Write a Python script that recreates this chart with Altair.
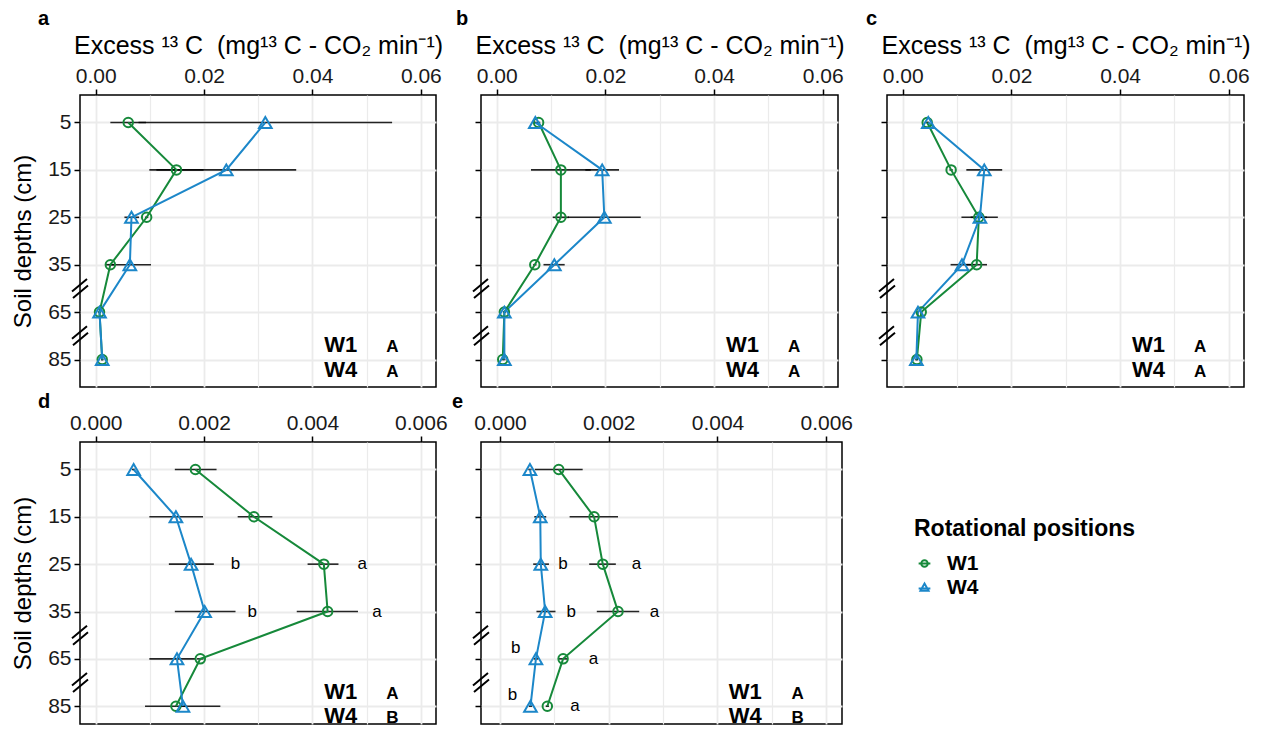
import altair as alt
import pandas as pd

# ---------------- data ----------------
depths = ["5", "15", "25", "35", "65", "85"]
series = ["W1", "W4"]
panel_keys = ["a", "b", "c", "d", "e"]

a_w1 = [0.0060, 0.0149, 0.0094, 0.0027, 0.0007, 0.0012]
a_w4 = [0.0313, 0.0241, 0.0066, 0.0063, 0.0007, 0.0012]
a_w1_lo = [0.0027, 0.0099, 0.0091, 0.0019, 0.0005, 0.0010]
a_w1_hi = [0.0093, 0.0199, 0.0097, 0.0035, 0.0009, 0.0014]
a_w4_lo = [0.0079, 0.0112, 0.0053, 0.0024, 0.0005, 0.0010]
a_w4_hi = [0.0547, 0.0370, 0.0080, 0.0102, 0.0009, 0.0014]

b_w1 = [0.0077, 0.0118, 0.0118, 0.0070, 0.0014, 0.0011]
b_w4 = [0.0071, 0.0194, 0.0198, 0.0106, 0.0014, 0.0014]
b_w1_lo = [0.0074, 0.0063, 0.0103, 0.0067, 0.0012, 0.0009]
b_w1_hi = [0.0080, 0.0173, 0.0133, 0.0073, 0.0016, 0.0013]
b_w4_lo = [0.0068, 0.0163, 0.0131, 0.0086, 0.0012, 0.0012]
b_w4_hi = [0.0074, 0.0225, 0.0265, 0.0125, 0.0016, 0.0016]

c_w1 = [0.0045, 0.0089, 0.0140, 0.0136, 0.0034, 0.0026]
c_w4 = [0.0047, 0.0150, 0.0142, 0.0109, 0.0028, 0.0025]
c_w1_lo = [0.0043, 0.0086, 0.0125, 0.0117, 0.0032, 0.0024]
c_w1_hi = [0.0047, 0.0092, 0.0155, 0.0155, 0.0036, 0.0028]
c_w4_lo = [0.0045, 0.0117, 0.0108, 0.0088, 0.0026, 0.0023]
c_w4_hi = [0.0049, 0.0183, 0.0175, 0.0130, 0.0030, 0.0027]

d_w1 = [0.00184, 0.00292, 0.00421, 0.00428, 0.00193, 0.00148]
d_w4 = [0.00070, 0.00148, 0.00176, 0.00201, 0.00150, 0.00161]
d_w1_lo = [0.00146, 0.00262, 0.00391, 0.00371, 0.00187, 0.00091]
d_w1_hi = [0.00223, 0.00326, 0.00448, 0.00484, 0.00199, 0.00230]
d_w4_lo = [0.00067, 0.00099, 0.00135, 0.00146, 0.00099, 0.00155]
d_w4_hi = [0.00073, 0.00198, 0.00218, 0.00258, 0.00184, 0.00167]

e_w1 = [0.00108, 0.00173, 0.00189, 0.00217, 0.00116, 0.00087]
e_w4 = [0.00055, 0.00074, 0.00075, 0.00083, 0.00066, 0.00056]
e_w1_lo = [0.00064, 0.00128, 0.00164, 0.00178, 0.00108, 0.00084]
e_w1_hi = [0.00152, 0.00217, 0.00213, 0.00256, 0.00124, 0.00090]
e_w4_lo = [0.00052, 0.00063, 0.00061, 0.00067, 0.00062, 0.00053]
e_w4_hi = [0.00058, 0.00085, 0.00090, 0.00102, 0.00070, 0.00059]

# overall group letters (W1, W4) per panel
group_w1 = ["A", "A", "A", "A", "A"]
group_w4 = ["A", "A", "A", "B", "B"]

# significance letters within depths (panel, depth position, x value, text)
sig_panel = ["d", "d", "d", "d", "e", "e", "e", "e", "e", "e", "e", "e"]
sig_pos = [2, 2, 3, 3, 2, 2, 3, 3, 3.77, 4, 4.77, 5]
sig_x = [0.00258, 0.00492, 0.00289, 0.00519,
         0.00116, 0.00251, 0.00131, 0.00284,
         0.00029, 0.00172, 0.00023, 0.00138]
sig_text = ["b", "a", "b", "a", "b", "a", "b", "a", "b", "a", "b", "a"]

break_pos = [3.5, 4.5]

# ---------------- styling ----------------
colors = ["#16893a", "#1c87c9"]
FONT = "Liberation Sans"
NB = "\u00a0"
xtitle = f"Excess ¹³{NB}C {NB}(mg¹³{NB}C - CO₂ min⁻¹)"
break_path = "M-0.8,0.3L0.7,-0.95M-0.7,0.95L0.8,-0.3"
legend_paths = [
    "M-0.5,0A0.5,0.5,0,1,1,0.5,0A0.5,0.5,0,1,1,-0.5,0M-0.9,0L0.9,0",
    "M0,-0.6L0.62,0.5L-0.62,0.5ZM-0.9,0.15L0.9,0.15",
]

top_dom = [-0.0029, 0.0628]
bot_dom = [-0.00029, 0.00628]
e_dom = [-0.00035, 0.00629]
top_ydom = [-0.58, 5.58]
bot_ydom = [-0.58, 5.376]


def long_df(w1, w4, w1lo, w1hi, w4lo, w4hi):
    rows = []
    for i in range(len(depths)):
        rows.append({"pos": i, "series": "W1", "val": w1[i], "lo": w1lo[i], "hi": w1hi[i]})
        rows.append({"pos": i, "series": "W4", "val": w4[i], "lo": w4lo[i], "hi": w4hi[i]})
    return pd.DataFrame(rows)


def panel(key, vals, xdom, top_row, width, height, show_ylab, title_dx):
    df = long_df(*vals)
    k = 100 if top_row else 1000
    fmt = ".2f" if top_row else ".3f"
    ticks = [round(i / k, 4) for i in range(0, 7)]
    minor = f"round(datum.value*{k}) % 2 != 0"
    ydom = top_ydom if top_row else bot_ydom

    xaxis = alt.Axis(
        orient="top", values=ticks,
        labelExpr=f"{minor} ? '' : format(datum.value, '{fmt}')",
        title=xtitle if top_row else None,
        titleFontSize=25, titleFontWeight="normal", titleColor="black", titlePadding=7,
        labelFontSize=21, labelColor="#1a1a1a", labelPadding=3,
        tickSize=6, tickWidth=1.5,
        tickColor={"condition": {"test": minor, "value": "transparent"}, "value": "black"},
        grid=True, gridColor="#ebebeb",
        gridWidth={"condition": {"test": minor, "value": 1.2}, "value": 1.8},
        domain=False,
    )
    lab_expr = "[" + ",".join(f"'{d}'" for d in depths) + "][datum.value]"
    yaxis = alt.Axis(
        values=list(range(len(depths))),
        labelExpr=lab_expr, labels=show_ylab,
        title="Soil depths (cm)" if show_ylab else None,
        titleFontSize=24, titleFontWeight="normal", titleColor="black", titlePadding=12,
        labelFontSize=21, labelColor="#1a1a1a", labelPadding=3,
        tickSize=6, tickWidth=1.5, tickColor="black",
        grid=True, gridColor="#ebebeb", gridWidth=1.8, domain=False,
    )
    xs = alt.Scale(domain=xdom, nice=False, zero=False)
    ys = alt.Scale(domain=ydom, reverse=True, nice=False, zero=False)
    cs = alt.Scale(domain=series, range=colors)

    base = alt.Chart(df)
    err = base.mark_rule(color="black", strokeWidth=1.6, opacity=0.85).encode(
        x=alt.X("lo:Q", scale=xs, axis=xaxis),
        x2="hi:Q",
        y=alt.Y("pos:Q", scale=ys, axis=yaxis),
    )
    line = base.mark_line(strokeWidth=2).encode(
        x=alt.X("val:Q", scale=xs, axis=xaxis),
        y=alt.Y("pos:Q", scale=ys, axis=yaxis),
        color=alt.Color("series:N", scale=cs, legend=None),
        order="pos:Q",
    )
    pt1 = base.transform_filter("datum.series == 'W1'").mark_point(
        shape="circle", filled=False, size=90, strokeWidth=2, opacity=1
    ).encode(
        x=alt.X("val:Q", scale=xs, axis=xaxis),
        y=alt.Y("pos:Q", scale=ys, axis=yaxis),
        color=alt.Color("series:N", scale=cs, legend=None),
    )
    pt4 = base.transform_filter("datum.series == 'W4'").mark_point(
        shape="triangle-up", filled=False, size=160, strokeWidth=2, opacity=1
    ).encode(
        x=alt.X("val:Q", scale=xs, axis=xaxis),
        y=alt.Y("pos:Q", scale=ys, axis=yaxis),
        color=alt.Color("series:N", scale=cs, legend=None),
    )

    brk = alt.Chart(pd.DataFrame({"pos": break_pos, "xv": [xdom[0]] * len(break_pos)})).mark_point(
        shape=break_path, size=400, filled=False, stroke="black", strokeWidth=2, opacity=1
    ).encode(
        x=alt.X("xv:Q", scale=xs, axis=xaxis),
        y=alt.Y("pos:Q", scale=ys, axis=yaxis),
    )

    i = panel_keys.index(key)
    span = xdom[1] - xdom[0]
    grp = pd.DataFrame({
        "name": series,
        "grp": [group_w1[i], group_w4[i]],
        "pos": [4.84, 5.36],
        "xn": [xdom[0] + 0.686 * span] * 2,
        "xg": [xdom[0] + 0.86 * span] * 2,
    })
    gname = alt.Chart(grp).mark_text(
        align="left", baseline="alphabetic", font=FONT, fontSize=22, fontWeight="bold", color="black"
    ).encode(x=alt.X("xn:Q", scale=xs, axis=xaxis), y=alt.Y("pos:Q", scale=ys, axis=yaxis), text="name:N")
    gletter = alt.Chart(grp).mark_text(
        align="left", baseline="alphabetic", font=FONT, fontSize=17, fontWeight="bold", color="black"
    ).encode(x=alt.X("xg:Q", scale=xs, axis=xaxis), y=alt.Y("pos:Q", scale=ys, axis=yaxis), text="grp:N")

    layers = [err, line, pt1, pt4, brk, gname, gletter]

    sig = pd.DataFrame({"panel": sig_panel, "pos": sig_pos, "xv": sig_x, "t": sig_text})
    sig = sig[sig["panel"] == key]
    if len(sig):
        layers.append(alt.Chart(sig).mark_text(
            align="center", baseline="middle", font=FONT, fontSize=17, color="black"
        ).encode(x=alt.X("xv:Q", scale=xs, axis=xaxis), y=alt.Y("pos:Q", scale=ys, axis=yaxis), text="t:N"))

    return alt.layer(*layers).properties(
        width=width, height=height,
        title=alt.TitleParams(key, anchor="start", frame="group", dx=title_dx,
                              offset=4 if top_row else 0,
                              fontSize=20, fontWeight="bold", font=FONT, color="black"),
    )


pa = panel("a", (a_w1, a_w4, a_w1_lo, a_w1_hi, a_w4_lo, a_w4_hi), top_dom, True, 356, 292, True, -42)
pb = panel("b", (b_w1, b_w4, b_w1_lo, b_w1_hi, b_w4_lo, b_w4_hi), top_dom, True, 357, 292, False, -25)
pc = panel("c", (c_w1, c_w4, c_w1_lo, c_w1_hi, c_w4_lo, c_w4_hi), top_dom, True, 357, 292, False, -21)
pd_ = panel("d", (d_w1, d_w4, d_w1_lo, d_w1_hi, d_w4_lo, d_w4_hi), bot_dom, False, 356, 282, True, -42)
pe = panel("e", (e_w1, e_w4, e_w1_lo, e_w1_hi, e_w4_lo, e_w4_hi), e_dom, False, 361, 282, False, -29)

# legend cell
leg_props = dict(
    title="Rotational positions", orient="none", legendX=27, legendY=76, padding=0,
    titleFontSize=23, titleFontWeight="bold", titleColor="black", titlePadding=12, titleFont=FONT,
    titleLimit=500,
    labelFontSize=21, labelFontWeight="bold", labelColor="black", labelFont=FONT,
    symbolSize=170, symbolStrokeWidth=2, labelOffset=12, rowPadding=2,
)
legend_cell = alt.Chart(pd.DataFrame({"series": series})).transform_filter("false").mark_point(
    filled=False, strokeWidth=2, opacity=1
).encode(
    color=alt.Color("series:N", scale=alt.Scale(domain=series, range=colors), legend=alt.Legend(**leg_props)),
    shape=alt.Shape("series:N", scale=alt.Scale(domain=series, range=legend_paths), legend=alt.Legend(**leg_props)),
).properties(width=357, height=282, view=alt.ViewBackground(stroke="transparent"))

chart = alt.concat(
    pa, pb, pc, pd_, pe, legend_cell, columns=3, spacing={"row": 55, "column": 45}, bounds="flush", align="each"
).resolve_scale(
    color="independent", shape="independent", x="independent", y="independent"
).resolve_legend(
    color="independent", shape="independent"
).properties(
    padding={"left": 2, "top": 0, "right": 0, "bottom": 0}
).configure(font=FONT).configure_view(stroke="black", strokeWidth=1.5)

chart.save("out.html", embed_options={"renderer": "svg", "actions": False})
